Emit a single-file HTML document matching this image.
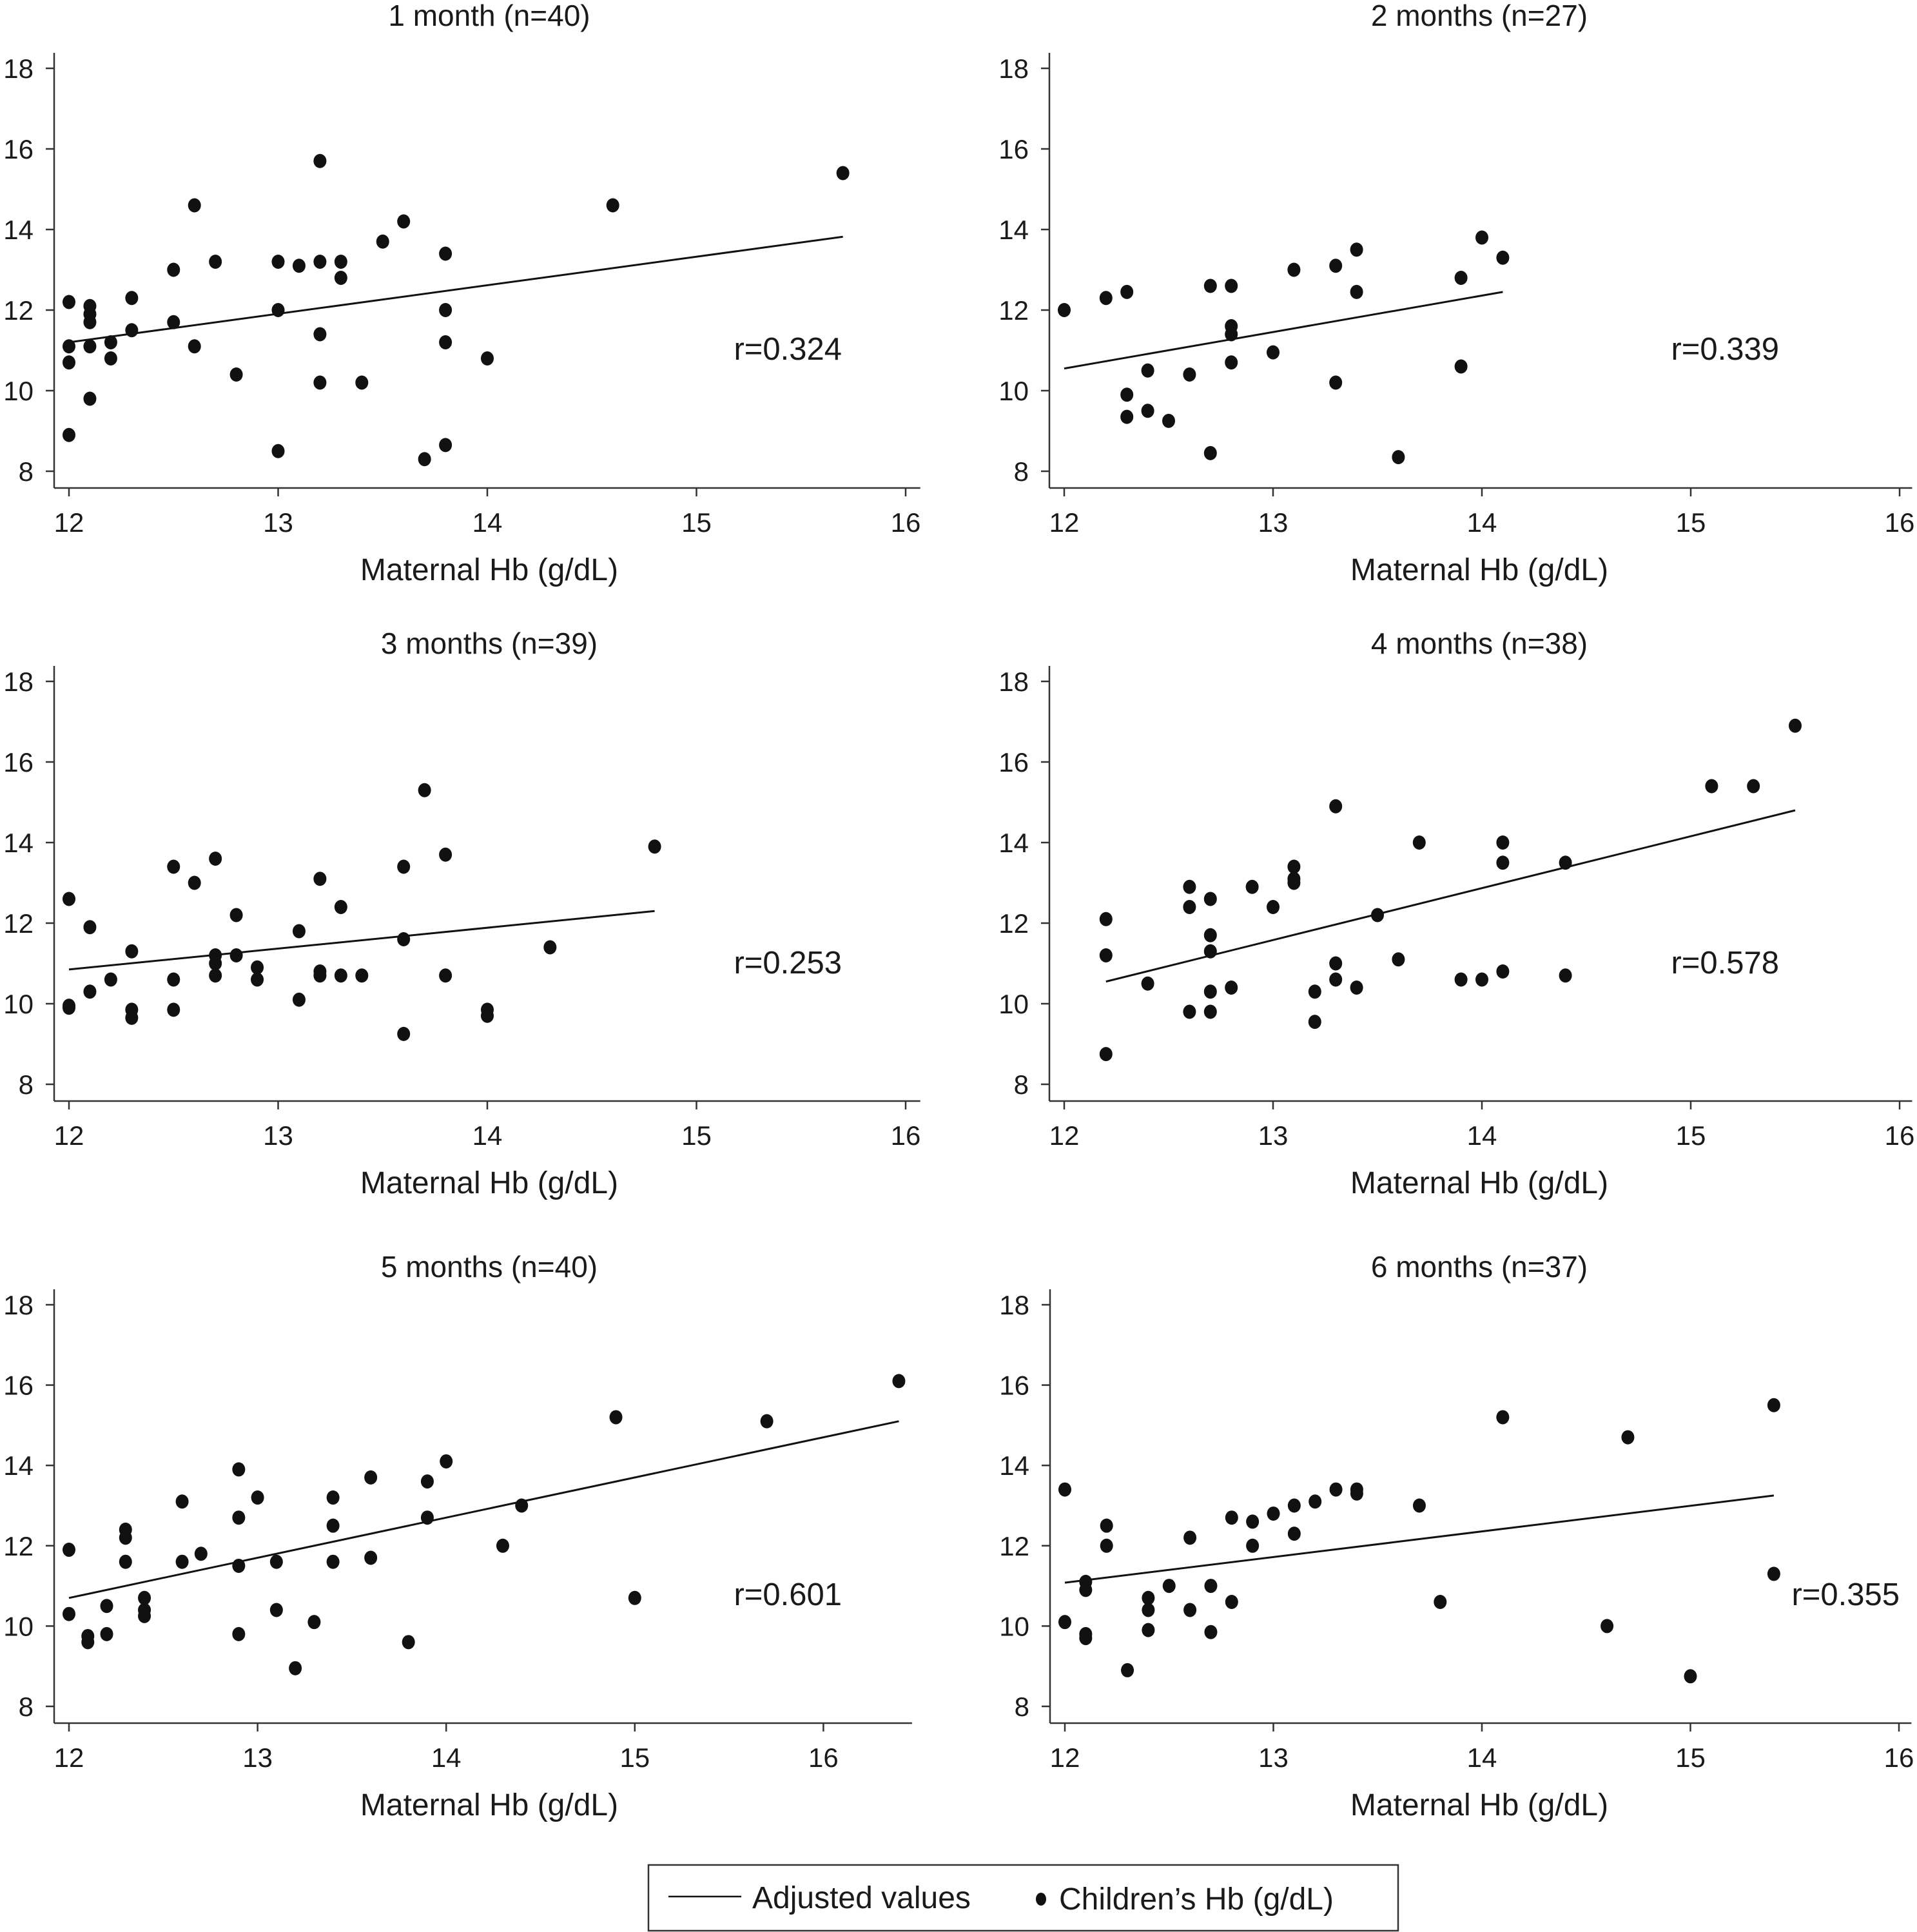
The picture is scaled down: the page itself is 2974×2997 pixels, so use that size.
<!DOCTYPE html>
<html><head><meta charset="utf-8"><style>
html,body{margin:0;padding:0;background:#fff;}
svg{display:block;}
text{font-family:"Liberation Sans",sans-serif;fill:#1a1a1a;}
</style></head><body>
<svg id="fig" width="2974" height="2997" viewBox="0 0 2974 2997" xmlns="http://www.w3.org/2000/svg"></svg>
<script>
const xTicks = [12, 13, 14, 15, 16];
const yTicks = [8, 10, 12, 14, 16, 18];
const panelTitles = ["1 month (n=40)", "2 months (n=27)", "3 months (n=39)", "4 months (n=38)", "5 months (n=40)", "6 months (n=37)"];
const rLabels = ["r=0.324", "r=0.339", "r=0.253", "r=0.578", "r=0.601", "r=0.355"];

const m1Maternal = [12,12,12,12,12.1,12.1,12.1,12.1,12.1,12.2,12.2,12.3,12.3,12.5,12.5,12.6,12.6,12.7,12.8,13,13,13,13.1,13.2,13.2,13.2,13.2,13.3,13.3,13.4,13.5,13.6,13.7,13.8,13.8,13.8,13.8,14.0,14.6,15.7];
const m1Child = [12.2,11.1,10.7,8.9,12.1,11.9,11.7,11.1,9.8,11.2,10.8,12.3,11.5,13.0,11.7,14.6,11.1,13.2,10.4,13.2,12.0,8.5,13.1,15.7,13.2,11.4,10.2,13.2,12.8,10.2,13.7,14.2,8.3,13.4,12.0,11.2,8.65,10.8,14.6,15.4];
const m1Fit = [[12, 11.2], [15.7, 13.82]];

const m2Maternal = [12,12.2,12.3,12.3,12.3,12.4,12.4,12.5,12.6,12.7,12.7,12.8,12.8,12.8,12.8,13,13.1,13.3,13.3,13.4,13.4,13.6,13.9,13.9,14.0,14.1];
const m2Child = [12.0,12.3,12.45,9.9,9.35,10.5,9.5,9.25,10.4,12.6,8.45,12.6,11.6,11.4,10.7,10.95,13.0,13.1,10.2,13.5,12.45,8.35,12.8,10.6,13.8,13.3];
const m2Fit = [[12, 10.55], [14.1, 12.45]];

const m3Maternal = [12,12,12,12.1,12.1,12.2,12.3,12.3,12.3,12.5,12.5,12.5,12.6,12.7,12.7,12.7,12.7,12.8,12.8,12.9,12.9,13.1,13.1,13.2,13.2,13.2,13.3,13.3,13.4,13.6,13.6,13.6,13.7,13.8,13.8,14,14,14.3,14.8];
const m3Child = [12.6,9.95,9.9,11.9,10.3,10.6,11.3,9.85,9.65,13.4,10.6,9.85,13.0,13.6,11.2,11.0,10.7,12.2,11.2,10.9,10.6,11.8,10.1,13.1,10.8,10.7,12.4,10.7,10.7,13.4,11.6,9.25,15.3,13.7,10.7,9.85,9.7,11.4,13.9];
const m3Fit = [[12, 10.85], [14.8, 12.3]];

const m4Maternal = [12.2,12.2,12.2,12.4,12.6,12.6,12.6,12.7,12.7,12.7,12.7,12.7,12.8,12.9,13.0,13.1,13.1,13.1,13.2,13.2,13.3,13.3,13.3,13.4,13.5,13.6,13.7,13.9,14.0,14.1,14.1,14.1,14.4,14.4,15.1,15.3,15.5];
const m4Child = [12.1,11.2,8.75,10.5,12.9,12.4,9.8,12.6,11.7,11.3,10.3,9.8,10.4,12.9,12.4,13.4,13.1,13.0,10.3,9.55,14.9,11.0,10.6,10.4,12.2,11.1,14.0,10.6,10.6,14.0,13.5,10.8,13.5,10.7,15.4,15.4,16.9];
const m4Fit = [[12.2, 10.55], [15.5, 14.8]];

const m5Maternal = [12,12,12.1,12.1,12.2,12.2,12.3,12.3,12.3,12.4,12.4,12.4,12.6,12.6,12.7,12.9,12.9,12.9,12.9,13,13.1,13.1,13.2,13.3,13.4,13.4,13.4,13.6,13.6,13.8,13.9,13.9,14.0,14.3,14.4,14.9,15.0,15.7,16.4];
const m5Child = [11.9,10.3,9.75,9.6,10.5,9.8,12.4,12.2,11.6,10.7,10.4,10.25,13.1,11.6,11.8,13.9,12.7,11.5,9.8,13.2,11.6,10.4,8.95,10.1,13.2,12.5,11.6,13.7,11.7,9.6,13.6,12.7,14.1,12.0,13.0,15.2,10.7,15.1,16.1];
const m5Fit = [[12, 10.7], [16.4, 15.1]];

const m6Maternal = [12,12,12.1,12.1,12.1,12.1,12.2,12.2,12.3,12.4,12.4,12.4,12.5,12.6,12.6,12.7,12.7,12.8,12.8,12.9,12.9,13,13.1,13.1,13.2,13.3,13.4,13.4,13.7,13.8,14.1,14.6,14.7,15,15.4,15.4];
const m6Child = [13.4,10.1,11.1,10.9,9.8,9.7,12.5,12.0,8.9,10.7,10.4,9.9,11.0,12.2,10.4,11.0,9.85,12.7,10.6,12.6,12.0,12.8,13.0,12.3,13.1,13.4,13.4,13.3,13.0,10.6,15.2,10.0,14.7,8.75,15.5,11.3];
const m6Fit = [[12, 11.08], [15.4, 13.25]];

const NS = "http://www.w3.org/2000/svg";
const svg = document.getElementById('fig');
function mk(tag, attrs, parent) {
  const e = document.createElementNS(NS, tag);
  for (const k in attrs) e.setAttribute(k, attrs[k]);
  (parent || svg).appendChild(e);
  return e;
}
function txt(parent, x, y, s, anchor, size, name) {
  const t = mk('text', {x: x, y: y, 'text-anchor': anchor, 'font-size': size}, parent);
  t.textContent = s;
  
  
  return t;
}

const panels = [
  {mx: m1Maternal, cy: m1Child, fit: m1Fit, x0: 107, ppu: 324.5, y18: 106, y8: 731, xmax: 16.07, rx: 1306, rv: 10.77, ty: 40},
  {mx: m2Maternal, cy: m2Child, fit: m2Fit, x0: 1651, ppu: 324, y18: 106, y8: 731, xmax: 16.06, rx: 2760, rv: 10.77, ty: 40},
  {mx: m3Maternal, cy: m3Child, fit: m3Fit, x0: 107, ppu: 324.5, y18: 1057, y8: 1682, xmax: 16.07, rx: 1306, rv: 10.75, ty: 1014},
  {mx: m4Maternal, cy: m4Child, fit: m4Fit, x0: 1651, ppu: 324, y18: 1057, y8: 1682, xmax: 16.06, rx: 2760, rv: 10.75, ty: 1014},
  {mx: m5Maternal, cy: m5Child, fit: m5Fit, x0: 107, ppu: 292.6, y18: 2024, y8: 2647, xmax: 16.47, rx: 1306, rv: 10.52, ty: 1981},
  {mx: m6Maternal, cy: m6Child, fit: m6Fit, x0: 1652, ppu: 323.5, y18: 2024, y8: 2647, xmax: 16.06, rx: 2947, rv: 10.52, ty: 1981}
];

panels.forEach(function(p, i) {
  const g = mk('g', {});
  
  
  const xs = function(v) { return p.x0 + (v - 12) * p.ppu; };
  const upu = (p.y8 - p.y18) / 10;
  const ys = function(v) { return p.y8 - (v - 8) * upu; };
  const axX = p.x0 - 23, axY = p.y8 + 26;
  const ya = mk('line', {x1: axX, y1: p.y18 - 24, x2: axX, y2: axY, stroke: '#333', 'stroke-width': 2.5}, g);
  
  
  const xa = mk('line', {x1: axX, y1: axY, x2: xs(p.xmax), y2: axY, stroke: '#333', 'stroke-width': 2.5}, g);
  
  
  yTicks.forEach(function(t) {
    const tk = mk('line', {x1: axX - 13, y1: ys(t), x2: axX, y2: ys(t), stroke: '#333', 'stroke-width': 2.5}, g);
    
    
    txt(g, axX - 32, ys(t) + 15, String(t), 'end', 42, 'y-tick-label');
  });
  xTicks.forEach(function(t) {
    const tk = mk('line', {x1: xs(t), y1: axY, x2: xs(t), y2: axY + 13, stroke: '#333', 'stroke-width': 2.5}, g);
    
    
    txt(g, xs(t), p.y8 + 94, String(t), 'middle', 42, 'x-tick-label');
  });
  const cx = (i % 2 === 0) ? 759 : 2295;
  txt(g, cx, p.ty, panelTitles[i], 'middle', 46, 'panel-title');
  txt(g, cx, p.y8 + 169, 'Maternal Hb (g/dL)', 'middle', 48, 'x-axis-title');
  txt(g, p.rx, ys(p.rv), rLabels[i], 'end', 49, 'correlation-label');
  const fl = mk('line', {x1: xs(p.fit[0][0]), y1: ys(p.fit[0][1]), x2: xs(p.fit[1][0]), y2: ys(p.fit[1][1]), stroke: '#111', 'stroke-width': 3}, g);
  
  
  p.mx.forEach(function(v, j) {
    const c = mk('ellipse', {cx: xs(v), cy: ys(p.cy[j]), rx: 10, ry: 11, fill: '#111'}, g);
    
    
  });
});

const lg = mk('g', {});


const box = mk('rect', {x: 1006, y: 2893, width: 1163, height: 102, fill: '#fff', stroke: '#333', 'stroke-width': 2.5}, lg);


const ll = mk('line', {x1: 1037, y1: 2942, x2: 1150, y2: 2942, stroke: '#111', 'stroke-width': 2.5}, lg);


txt(lg, 1167, 2960, 'Adjusted values', 'start', 48, 'legend-entry-adjusted');
const ld = mk('ellipse', {cx: 1615, cy: 2946, rx: 8, ry: 10, fill: '#111'}, lg);


txt(lg, 1643, 2962, 'Children\u2019s Hb (g/dL)', 'start', 48, 'legend-entry-children');
</script>
</body></html>
